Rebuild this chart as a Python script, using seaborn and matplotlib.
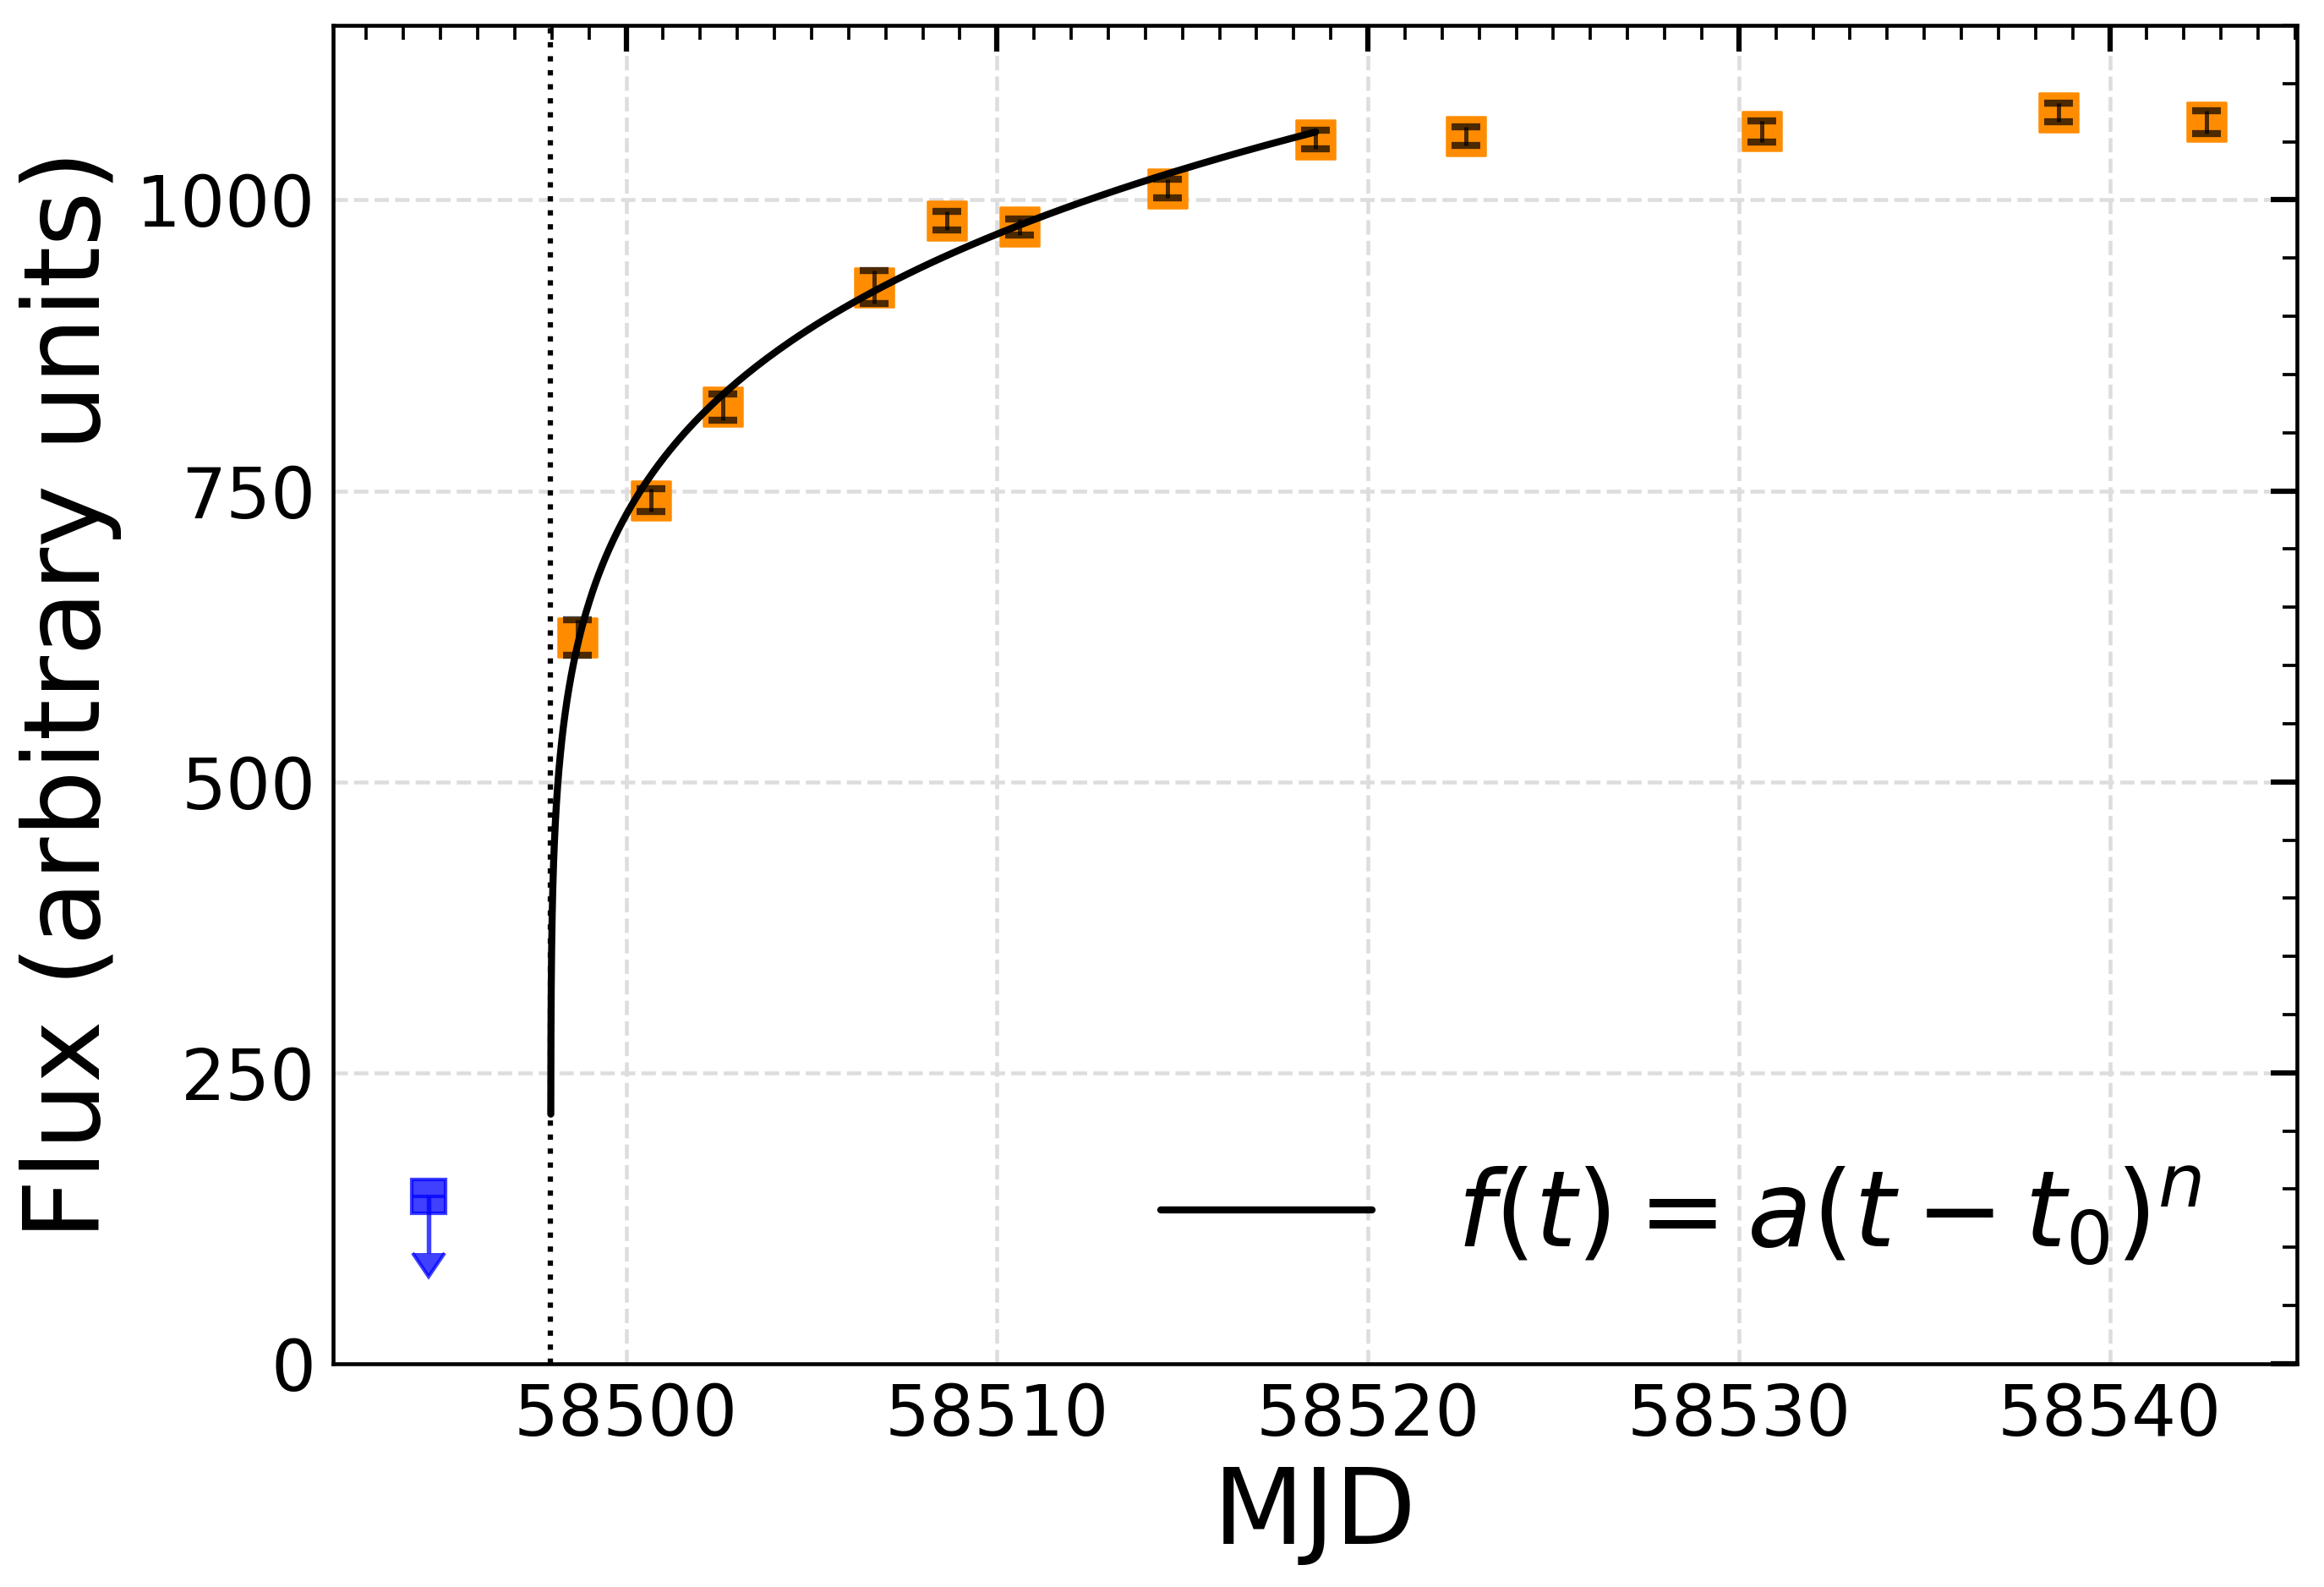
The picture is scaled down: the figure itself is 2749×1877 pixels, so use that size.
import numpy as np
import matplotlib
matplotlib.use("Agg")
import matplotlib.pyplot as plt
from matplotlib.ticker import MultipleLocator
import seaborn as sns
import pandas as pd

# detections
mjd = [58498.68, 58500.68, 58502.62, 58506.68, 58508.64, 58510.62,
       58514.60, 58518.59, 58522.64, 58530.61, 58538.62, 58542.60]
flux = [624, 742, 822, 925, 982, 977, 1010, 1052, 1055, 1059, 1075, 1067]
flux_err = [15, 10, 11, 14, 8, 7, 8, 8, 8, 9, 8, 10]

# non-detection (upper limit)
lim_mjd = [58494.67]
lim_flux = [144]
lim_err = [49]

# power-law fit parameters
t0 = 58497.97
a_fit = 650.8
n_fit = 0.1607
t_fit_end = 58518.59

sns.set_style("white")
plt.rcParams["font.family"] = ["DejaVu Sans"]
plt.rcParams["mathtext.fontset"] = "dejavusans"
for key in ["text.color", "axes.labelcolor", "xtick.color", "ytick.color"]:
    plt.rcParams[key] = "black"

fig, ax = plt.subplots(figsize=(2749 / 300, 1877 / 300), dpi=300)
fig.subplots_adjust(left=0.1433, right=0.9884, top=0.984, bottom=0.1407)

df = pd.DataFrame({"MJD": mjd, "Flux": flux, "err": flux_err})

dt = np.logspace(-3, np.log10(t_fit_end - t0), 600)
fit = pd.DataFrame({"MJD": t0 + dt, "Flux": a_fit * dt ** n_fit})

ax.grid(True, color="#dddddd", ls="--", lw=1.1, zorder=0)
ax.axvline(t0, color="k", ls=":", lw=1.5, zorder=1)

sns.scatterplot(data=df, x="MJD", y="Flux", marker="s", s=121,
                color="darkorange", edgecolor="darkorange", linewidth=0.6,
                zorder=2, ax=ax, legend=False)
ax.errorbar(df["MJD"], df["Flux"], yerr=df["err"], fmt="none", ecolor="black",
            alpha=0.7, elinewidth=1.2, capsize=4, capthick=2, zorder=3)

ax.errorbar(lim_mjd, lim_flux, yerr=lim_err, uplims=True, fmt="s", ms=9.6,
            color="blue", alpha=0.75, capsize=4.5, elinewidth=1.3, zorder=3)

sns.lineplot(data=fit, x="MJD", y="Flux", color="black", lw=2,
             label=r"$f(t) = a(t - t_0)^n$", zorder=4, ax=ax)

ax.set_xlim(58492.1, 58545.05)
ax.set_ylim(0, 1150)
ax.xaxis.set_major_locator(MultipleLocator(10))
ax.xaxis.set_minor_locator(MultipleLocator(1))
ax.yaxis.set_major_locator(MultipleLocator(250))
ax.yaxis.set_minor_locator(MultipleLocator(50))
ax.tick_params(which="both", direction="in", top=True, right=True,
               labelsize=20, color="black", labelcolor="black")
ax.tick_params(which="major", length=7.5, width=1.5, pad=5)
ax.tick_params(which="minor", length=4, width=0.9)
for sp in ax.spines.values():
    sp.set_color("black")
    sp.set_linewidth(1.1)

ax.set_xlabel("MJD", fontsize=30, color="black")
ax.set_ylabel("Flux (arbitrary units)", fontsize=30, color="black")
ax.legend(loc="lower right", fontsize=30, frameon=False)

fig.savefig("out.png", dpi=300)
